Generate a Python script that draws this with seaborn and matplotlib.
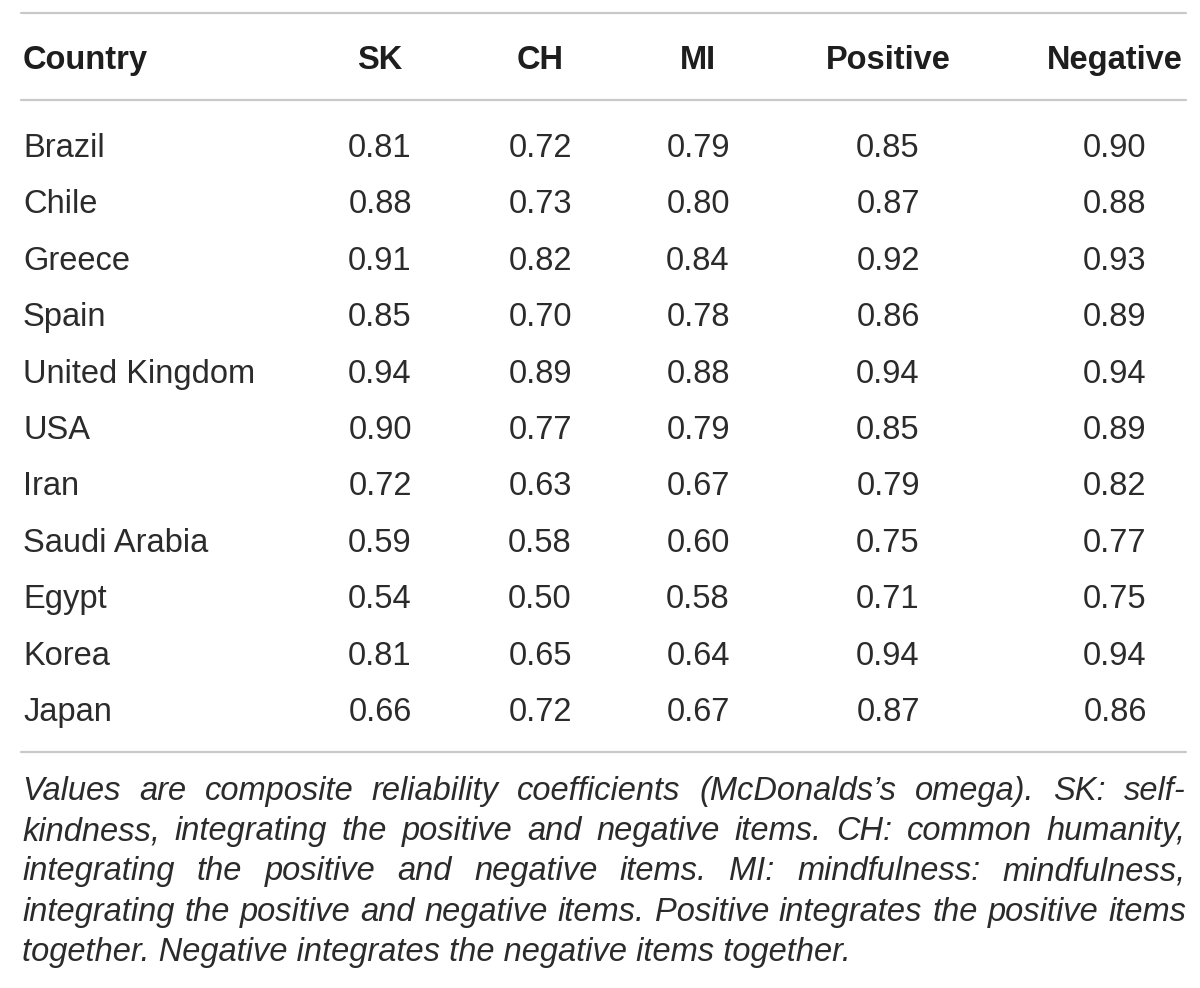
import matplotlib
matplotlib.use("Agg")
import matplotlib.pyplot as plt
import seaborn as sns
import pandas as pd

countries = ["Brazil", "Chile", "Greece", "Spain", "United Kingdom", "USA",
             "Iran", "Saudi Arabia", "Egypt", "Korea", "Japan"]
sk = [0.81, 0.88, 0.91, 0.85, 0.94, 0.90, 0.72, 0.59, 0.54, 0.81, 0.66]
ch = [0.72, 0.73, 0.82, 0.70, 0.89, 0.77, 0.63, 0.58, 0.50, 0.65, 0.72]
mi = [0.79, 0.80, 0.84, 0.78, 0.88, 0.79, 0.67, 0.60, 0.58, 0.64, 0.67]
positive = [0.85, 0.87, 0.92, 0.86, 0.94, 0.85, 0.79, 0.75, 0.71, 0.94, 0.87]
negative = [0.90, 0.88, 0.93, 0.89, 0.94, 0.89, 0.82, 0.77, 0.75, 0.94, 0.86]
columns = ["SK", "CH", "MI", "Positive", "Negative"]

footnote_lines = [
    "Values are composite reliability coefficients (McDonalds\u2019s omega). SK: self-",
    "kindness, integrating the positive and negative items. CH: common humanity,",
    "integrating the positive and negative items. MI: mindfulness: mindfulness,",
    "integrating the positive and negative items. Positive integrates the positive items",
    "together. Negative integrates the negative items together.",
]

df = pd.DataFrame({"Country": countries, "SK": sk, "CH": ch, "MI": mi,
                   "Positive": positive, "Negative": negative})

sns.set_theme(style="white")
plt.rcParams["font.family"] = ["Liberation Sans", "DejaVu Sans"]

W, H = 1200, 988
fig = plt.figure(figsize=(12, 9.88), dpi=100)
ax = fig.add_axes([0, 0, 1, 1])
ax.set_xlim(0, W)
ax.set_ylim(H, 0)
ax.axis("off")

txt = "#2b2b2b"
head_col = "#1e1e1e"
line_col = "#c9c9c9"
fs = 23.5

x_left, x_right = 21, 1186
ax.plot([x_left, x_right], [13, 13], color=line_col, lw=1.6)
ax.plot([x_left, x_right], [100, 100], color=line_col, lw=1.6)
ax.plot([x_left, x_right], [752, 752], color=line_col, lw=1.6)

col_x = [380, 540, 698, 888, 1115]
header_base = 69
ax.text(x_left + 2, header_base, "Country", ha="left", va="baseline",
        fontsize=fs, fontweight="bold", color=head_col)
for cx, name in zip(col_x, columns):
    ax.text(cx, header_base, name, ha="center", va="baseline",
            fontsize=fs, fontweight="bold", color=head_col)

row_base0, row_dy = 157, 56.4
for i, row in df.iterrows():
    y = row_base0 + i * row_dy
    ax.text(x_left + 2, y, row["Country"], ha="left", va="baseline",
            fontsize=fs, color=txt)
    for cx, c in zip(col_x, columns):
        ax.text(cx, y, f"{row[c]:.2f}", ha="center", va="baseline",
                fontsize=fs, color=txt)

# justified italic footnote
fig.canvas.draw()
renderer = fig.canvas.get_renderer()
inv = ax.transData.inverted()

def text_width(s):
    t = ax.text(0, 0, s, fontsize=fs, fontstyle="italic")
    bb = t.get_window_extent(renderer=renderer)
    t.remove()
    p0 = inv.transform((bb.x0, bb.y0))
    p1 = inv.transform((bb.x1, bb.y1))
    return p1[0] - p0[0]

foot_base0, foot_dy = 800, 40.2
fx0, fx1 = x_left + 1, x_right
for li, line in enumerate(footnote_lines):
    y = foot_base0 + li * foot_dy
    words = line.split(" ")
    if li == len(footnote_lines) - 1:
        ax.text(fx0, y, line, ha="left", va="baseline", fontsize=fs,
                fontstyle="italic", color=txt)
        continue
    widths = [text_width(w) for w in words]
    gap = (fx1 - fx0 - sum(widths)) / (len(words) - 1)
    x = fx0
    for w, wd in zip(words, widths):
        ax.text(x, y, w, ha="left", va="baseline", fontsize=fs,
                fontstyle="italic", color=txt)
        x += wd + gap

fig.savefig("out.png", dpi=100, facecolor="white")
